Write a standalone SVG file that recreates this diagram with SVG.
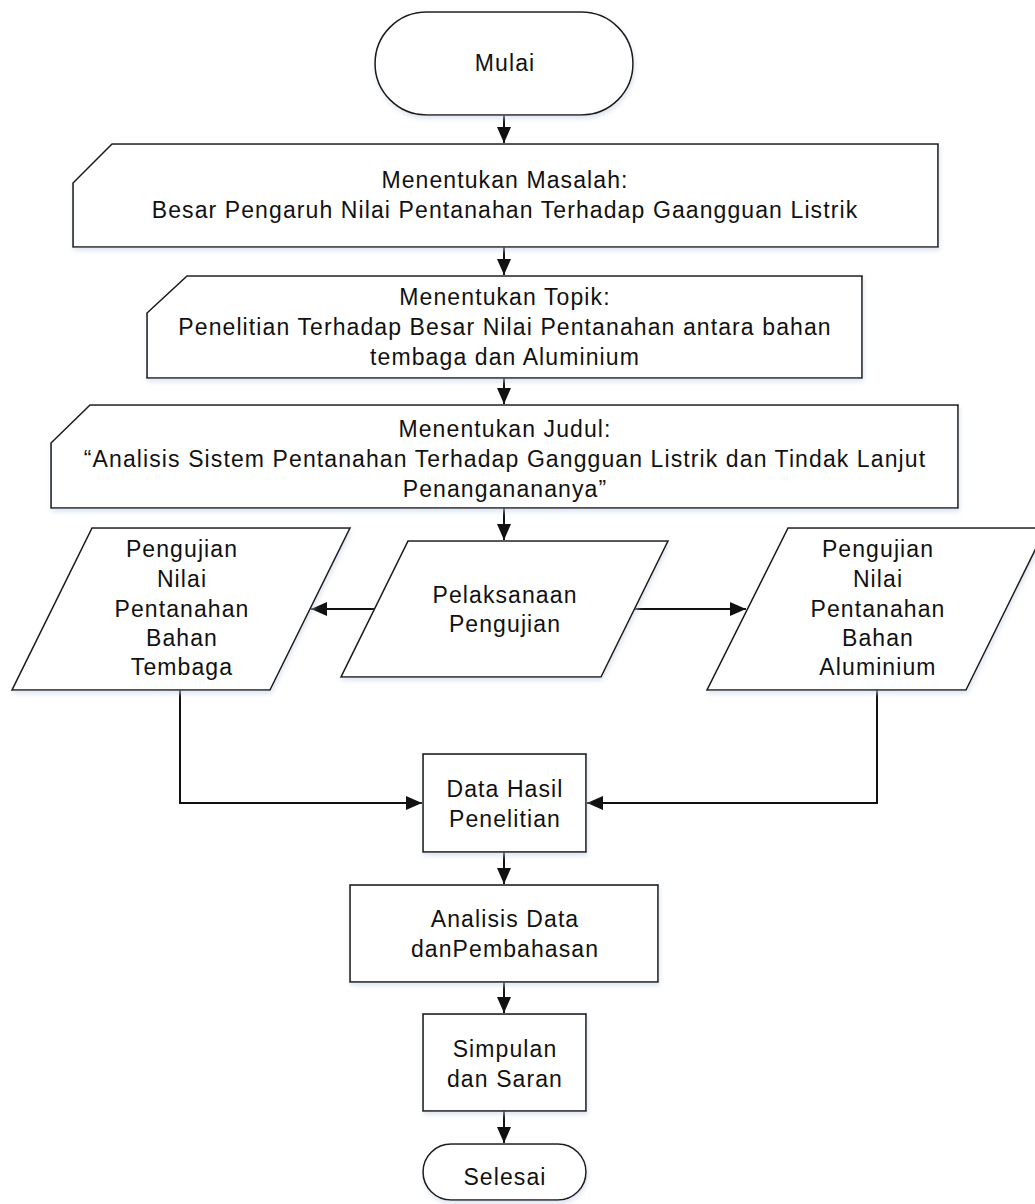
<svg xmlns="http://www.w3.org/2000/svg" width="1035" height="1204" viewBox="0 0 1035 1204">
<style>
.s{fill:#fff;stroke:#1a1a1a;stroke-width:1.6;filter:url(#sh)}
.t{font-family:"Liberation Sans",Arial,sans-serif;font-size:23px;letter-spacing:1.1px;fill:#111;text-anchor:middle}
.c{fill:none;stroke:#111;stroke-width:2}
</style>
<defs>
<filter id="sh" x="-5%" y="-10%" width="110%" height="125%">
<feGaussianBlur in="SourceAlpha" stdDeviation="2.5" result="b"/>
<feOffset dx="1" dy="3" result="o"/>
<feFlood flood-color="#c8d4e6" flood-opacity="0.6"/>
<feComposite in2="o" operator="in"/>
<feMerge><feMergeNode/><feMergeNode in="SourceGraphic"/></feMerge>
</filter>
<marker id="ah" viewBox="0 0 16 14" refX="16" refY="7" markerWidth="16" markerHeight="14" markerUnits="userSpaceOnUse" orient="auto">
<path d="M0,0 L16,7 L0,14 Z" fill="#111"/>
</marker>
</defs>
<rect width="1035" height="1204" fill="#fff"/>

<g id="connectors">
<path class="c" d="M504,115 V143" marker-end="url(#ah)"/>
<path class="c" d="M504,247 V275" marker-end="url(#ah)"/>
<path class="c" d="M504,378 V404" marker-end="url(#ah)"/>
<path class="c" d="M504,508 V540" marker-end="url(#ah)"/>
<path class="c" d="M375,609 H311" marker-end="url(#ah)"/>
<path class="c" d="M635,609 H746" marker-end="url(#ah)"/>
<path class="c" d="M180,690 V803 H422" marker-end="url(#ah)"/>
<path class="c" d="M877,690 V803 H587" marker-end="url(#ah)"/>
<path class="c" d="M504,852 V884" marker-end="url(#ah)"/>
<path class="c" d="M504,982 V1013" marker-end="url(#ah)"/>
<path class="c" d="M504,1111 V1143" marker-end="url(#ah)"/>
</g>

<g id="mulai">
<rect class="s" x="375" y="12" width="258" height="103" rx="51.5"/>
<text class="t" x="505" y="71">Mulai</text>
</g>

<g id="masalah">
<path class="s" d="M112,144 H938 V247 H73 V183 Z"/>
<text class="t" x="505" y="188">Menentukan Masalah:</text>
<text class="t" x="505" y="218">Besar Pengaruh Nilai Pentanahan Terhadap Gaangguan Listrik</text>
</g>

<g id="topik">
<path class="s" d="M187,276 H862 V378 H147 V313 Z"/>
<text class="t" x="505" y="305">Menentukan Topik:</text>
<text class="t" x="505" y="335">Penelitian Terhadap Besar Nilai Pentanahan antara bahan</text>
<text class="t" x="505" y="365">tembaga dan Aluminium</text>
</g>

<g id="judul">
<path class="s" d="M90,405 H958 V508 H51 V443 Z"/>
<text class="t" x="505" y="437">Menentukan Judul:</text>
<text class="t" x="505" y="467">“Analisis Sistem Pentanahan Terhadap Gangguan Listrik dan Tindak Lanjut</text>
<text class="t" x="505" y="497">Penanganananya”</text>
</g>

<g id="pelaksanaan">
<path class="s" d="M408,541 H668 L601,677 H341 Z"/>
<text class="t" x="505" y="603">Pelaksanaan</text>
<text class="t" x="505" y="632">Pengujian</text>
</g>

<g id="tembaga">
<path class="s" d="M92,528 H350 L270,690 H12 Z"/>
<text class="t" x="182" y="557">Pengujian</text>
<text class="t" x="182" y="587">Nilai</text>
<text class="t" x="182" y="617">Pentanahan</text>
<text class="t" x="182" y="646">Bahan</text>
<text class="t" x="182" y="675">Tembaga</text>
</g>

<g id="aluminium">
<path class="s" d="M788,528 H1046 L966,690 H707 Z"/>
<text class="t" x="878" y="557">Pengujian</text>
<text class="t" x="878" y="587">Nilai</text>
<text class="t" x="878" y="617">Pentanahan</text>
<text class="t" x="878" y="646">Bahan</text>
<text class="t" x="878" y="675">Aluminium</text>
</g>

<g id="datahasil">
<rect class="s" x="423" y="754" width="163" height="98"/>
<text class="t" x="505" y="797">Data Hasil</text>
<text class="t" x="505" y="827">Penelitian</text>
</g>

<g id="analisis">
<rect class="s" x="350" y="885" width="308" height="97"/>
<text class="t" x="505" y="927">Analisis Data</text>
<text class="t" x="505" y="957">danPembahasan</text>
</g>

<g id="simpulan">
<rect class="s" x="423" y="1014" width="163" height="97"/>
<text class="t" x="505" y="1057">Simpulan</text>
<text class="t" x="505" y="1087">dan Saran</text>
</g>

<g id="selesai">
<rect class="s" x="423" y="1144" width="163" height="56" rx="28"/>
<text class="t" x="505" y="1185">Selesai</text>
</g>
</svg>
